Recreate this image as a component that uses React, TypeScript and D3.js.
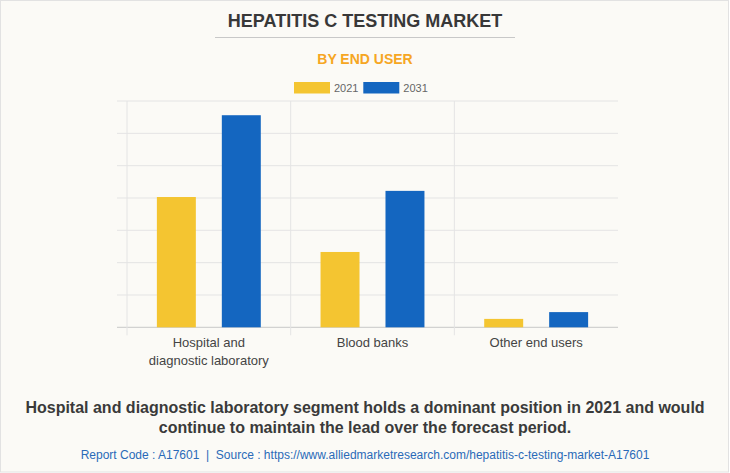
import React from "react";
import * as d3 from "d3";

const categories = ["Hospital and diagnostic laboratory", "Blood banks", "Other end users"];
const categoryLines = [["Hospital and", "diagnostic laboratory"], ["Blood banks"], ["Other end users"]];
const seriesNames = ["2021", "2031"];
const values2021 = [403, 233, 26];
const values2031 = [656, 422, 47];
const yTicks = [0, 100, 200, 300, 400, 500, 600, 700];
const colors = ["#f4c531", "#1466c0"];

const W = 730;
const H = 473;
const plot = { left: 127, right: 618, top: 101, bottom: 327.3 };

export default function App() {
  const x0 = d3.scaleBand<string>().domain(categories).range([plot.left, plot.right]).padding(0);
  const step = x0.bandwidth();
  const x1 = d3
    .scaleBand<string>()
    .domain(seriesNames)
    .range([0, step])
    .paddingInner(0.4)
    .paddingOuter(0.46);
  const y = d3.scaleLinear().domain([0, 700]).range([plot.bottom, plot.top]);
  const series = [values2021, values2031];

  return (
    <svg
      width={W}
      height={H}
      style={{ position: "absolute", left: 0, top: 0, display: "block" }}
      fontFamily="Arial, 'Liberation Sans', Helvetica, sans-serif"
    >
      <rect x={0.5} y={0.5} width={W - 2} height={H - 1.5} fill="#fbfaf6" stroke="#e2e2e2" />
      <text x={365} y={27} textAnchor="middle" fontSize={18} fontWeight="bold" fill="#383838">
        HEPATITIS C TESTING MARKET
      </text>
      <line x1={215} x2={515} y1={37.5} y2={37.5} stroke="#c8c8c8" />
      <text x={365} y={64} textAnchor="middle" fontSize={14} fontWeight="bold" fill="#f6a623">
        BY END USER
      </text>
      {seriesNames.map((s, i) => (
        <g key={s}>
          <rect x={294 + i * 69.3} y={82} width={36} height={11.5} fill={colors[i]} />
          <text x={334 + i * 69.3} y={91.5} fontSize={11} fill="#666">
            {s}
          </text>
        </g>
      ))}
      {yTicks.map((t) => (
        <line
          key={t}
          x1={plot.left - 10}
          x2={plot.right}
          y1={y(t)}
          y2={y(t)}
          stroke={t === 0 ? "#c8c8c8" : "#e4e4e4"}
        />
      ))}
      {categories.map((c) => (
        <line
          key={c}
          x1={x0(c)!}
          x2={x0(c)!}
          y1={plot.top}
          y2={plot.bottom + 8}
          stroke="#e4e4e4"
        />
      ))}
      {categories.map((c, ci) => (
        <g key={c}>
          {series.map((vals, si) => (
            <rect
              key={si}
              x={x0(c)! + x1(seriesNames[si])!}
              y={y(vals[ci])}
              width={x1.bandwidth()}
              height={plot.bottom - y(vals[ci])}
              fill={colors[si]}
            />
          ))}
          {categoryLines[ci].map((ln, li) => (
            <text
              key={li}
              x={x0(c)! + step / 2}
              y={346.5 + li * 18.5}
              textAnchor="middle"
              fontSize={13}
              fill="#444"
            >
              {ln}
            </text>
          ))}
        </g>
      ))}
      <text x={365} y={413} textAnchor="middle" fontSize={16} fontWeight="bold" fill="#3a3a3a">
        Hospital and diagnostic laboratory segment holds a dominant position in 2021 and would
      </text>
      <text x={365} y={433} textAnchor="middle" fontSize={16} fontWeight="bold" fill="#3a3a3a">
        continue to maintain the lead over the forecast period.
      </text>
      <text x={365} y={459} textAnchor="middle" fontSize={12} fill="#2a6ab8">
        {"Report Code : A17601\u00a0\u00a0|\u00a0\u00a0Source : https://www.alliedmarketresearch.com/hepatitis-c-testing-market-A17601"}
      </text>
    </svg>
  );
}
